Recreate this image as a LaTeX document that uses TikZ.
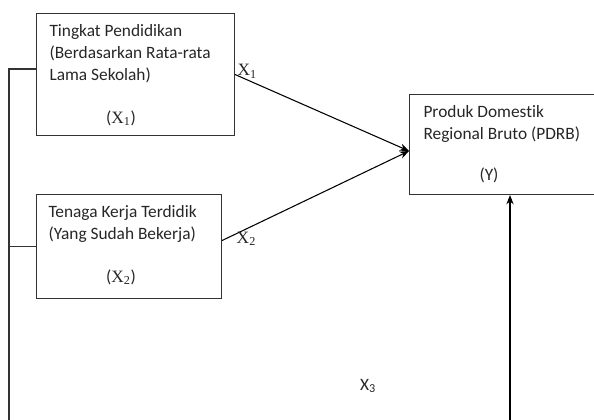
\documentclass[tikz,border=0pt]{standalone}
\usepackage{fontspec}
\setmainfont{Carlito}[Ligatures=NoCommon]
\newfontfamily\lblfont{Liberation Serif}
\usetikzlibrary{arrows.meta,positioning}

\begin{document}
\begin{tikzpicture}[x=0.75pt, y=-0.75pt, >={Stealth[length=7pt,width=5.5pt]}, thick, font=\fontsize{13}{16.5}\selectfont]
        \tikzset{
           box/.style={
                       rectangle,
                       draw=black!80,
                       fill=none,
                       anchor=north west,
                       inner sep=0pt
                      },
           txt/.style={
                       anchor=north west,
                       align=left,
                       inner sep=0pt,
                       text=black!85
                      },
           lbl/.style={
                       inner sep=0pt,
                       text=black!85
                      },
                 };
        \useasboundingbox (0,0) rectangle (594,420);
        \clip (0,0) rectangle (594,420);
        %----------------
        \node[box, minimum width=148.5pt, minimum height=91.5pt] (pendidikan) at (36,13) {};
        \node[box, minimum width=138.75pt, minimum height=78pt] (tenaga) at (36,194) {};
        \node[box, minimum width=142.5pt, minimum height=75pt] (pdrb) at (409,94) {};
        %----------------
        \node[txt] (pendidikanTxt) at (49,24) {Tingkat Pendidikan\\(Berdasarkan Rata-rata\\Lama Sekolah)};
        \node[lbl] (pendidikanVar) at (121,118) {({\lblfont X\textsubscript{1}})};
        \node[txt] (tenagaTxt) at (48,205) {Tenaga Kerja Terdidik\\(Yang Sudah Bekerja)};
        \node[lbl] (tenagaVar) at (121,277) {({\lblfont X\textsubscript{2}})};
        \node[txt] (pdrbTxt) at (423,105) {Produk Domestik\\Regional Bruto (PDRB)};
        \node[lbl] (pdrbVar) at (489,175) {(Y)};
        %----------------
        \coordinate (pdrbIn) at (409,151);
        \coordinate (spineTop) at (9,69);
        \coordinate (spineBot) at (9,425);
        \coordinate (riseBot) at (510,425);
        %----------------
        \draw[->] (pendidikan.east) -- node[lbl, pos=0.07, above=1pt] (labelX1) {\lblfont X\textsubscript{1}} (pdrbIn);
        \draw[->] ([yshift=4.5pt]tenaga.east) -- node[lbl, pos=0.13, below=2pt] (labelX2) {\lblfont X\textsubscript{2}} (pdrbIn);
        \draw[black!80] (pendidikan.west |- spineTop) -- (spineTop) -- (spineBot);
        \draw[black!80] (tenaga.west) -- (tenaga.west -| spineTop);
        \draw[->] (riseBot) -- (riseBot |- pdrb.south);
        \node[lbl] (labelX3) at (368,386) {X\textsubscript{3}};
\end{tikzpicture}
\end{document}
